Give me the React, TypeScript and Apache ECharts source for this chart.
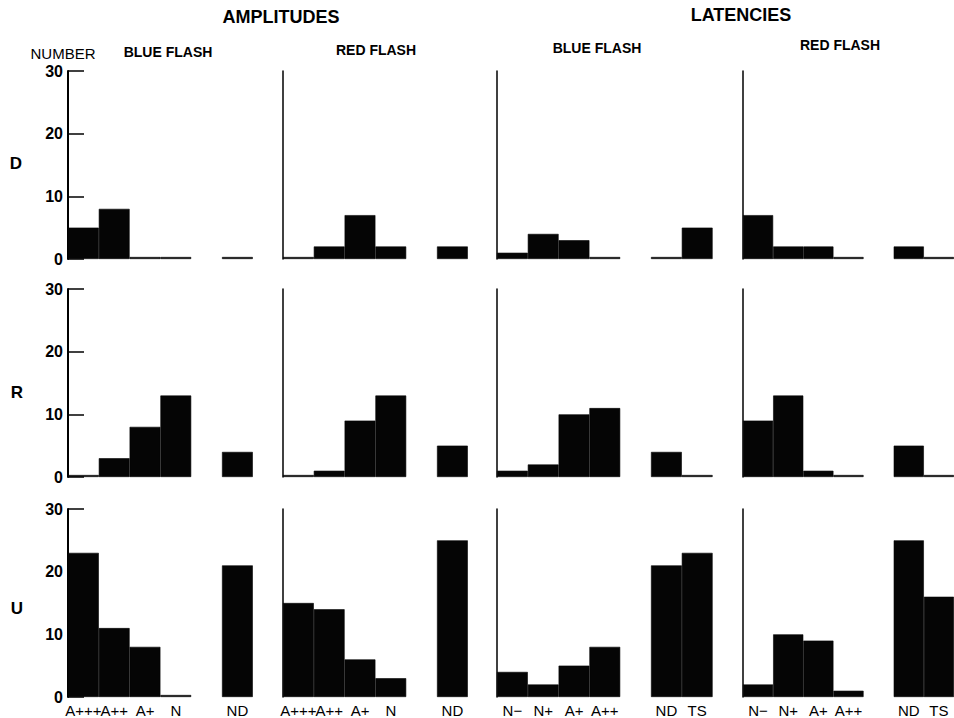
import React, { useEffect, useRef } from 'react';
import * as echarts from 'echarts';

// ---- data ----
const rowLabels = ['D', 'R', 'U'];
const amplitudeCategories = ['A+++', 'A++', 'A+', 'N', '', 'ND'];
const latencyCategories = ['N−', 'N+', 'A+', 'A++', '', 'ND', 'TS'];
const yTickValues = [0, 10, 20, 30];

// null = empty gap slot between histogram and ND/TS columns
const ampBlueD = [5, 8, 0, 0, null, 0];
const ampRedD = [0, 2, 7, 2, null, 2];
const latBlueD = [1, 4, 3, 0, null, 0, 5];
const latRedD = [7, 2, 2, 0, null, 2, 0];

const ampBlueR = [0, 3, 8, 13, null, 4];
const ampRedR = [0, 1, 9, 13, null, 5];
const latBlueR = [1, 2, 10, 11, null, 4, 0];
const latRedR = [9, 13, 1, 0, null, 5, 0];

const ampBlueU = [23, 11, 8, 0, null, 21];
const ampRedU = [15, 14, 6, 3, null, 25];
const latBlueU = [4, 2, 5, 8, null, 21, 23];
const latRedU = [2, 10, 9, 1, null, 25, 16];

const rowData = [
  [ampBlueD, ampRedD, latBlueD, latRedD],
  [ampBlueR, ampRedR, latBlueR, latRedR],
  [ampBlueU, ampRedU, latBlueU, latRedU],
];
const panelCategories = [amplitudeCategories, amplitudeCategories, latencyCategories, latencyCategories];

// ---- layout ----
const FONT = '"Liberation Sans", Arial, Helvetica, sans-serif';
const panelLefts = [68, 283, 497, 743];
const rowTops = [71, 289, 509];
const rowHeight = 188;
const catWidth = 30.8;

export default function App() {
  const ref = useRef<HTMLDivElement>(null);
  useEffect(() => {
    document.body.style.margin = '0';
    const chart = echarts.init(ref.current!, null, { renderer: 'svg' });

    const grid: any[] = [];
    const xAxis: any[] = [];
    const yAxis: any[] = [];
    const series: any[] = [];

    rowData.forEach((panels, r) => {
      panels.forEach((vals, p) => {
        const idx = grid.length;
        const cats = panelCategories[p];
        grid.push({
          left: panelLefts[p],
          top: rowTops[r],
          width: cats.length * catWidth,
          height: rowHeight,
          containLabel: false,
        });
        xAxis.push({
          type: 'category',
          gridIndex: idx,
          data: cats,
          boundaryGap: true,
          axisLine: { show: false },
          axisTick: { show: false },
          axisLabel: {
            show: r === 2,
            interval: 0,
            color: '#000',
            fontFamily: FONT,
            fontSize: 15,
            margin: 6,
          },
          splitLine: { show: false },
        });
        yAxis.push({
          type: 'value',
          gridIndex: idx,
          min: yTickValues[0],
          max: yTickValues[yTickValues.length - 1],
          interval: yTickValues[1] - yTickValues[0],
          axisLine: { show: true, lineStyle: { color: '#000', width: p === 0 ? 2 : 1.5 } },
          axisTick: {
            show: p === 0,
            inside: true,
            length: 16,
            lineStyle: { color: '#000', width: 1.5 },
          },
          axisLabel: {
            show: p === 0,
            color: '#000',
            fontFamily: FONT,
            fontSize: 16,
            fontWeight: 'bold',
            margin: 5,
          },
          splitLine: { show: false },
        });
        series.push({
          type: 'bar',
          xAxisIndex: idx,
          yAxisIndex: idx,
          data: vals.map((v) => (v === null ? '-' : v)),
          barCategoryGap: '0%',
          barMinHeight: 2,
          itemStyle: { color: '#050505', borderColor: '#050505', borderWidth: 0.6 },
          silent: true,
        });
      });
    });

    const txt = (text: string, x: number, y: number, size: number, bold: boolean) => ({
      type: 'text',
      x,
      y,
      style: {
        text,
        fill: '#000',
        font: `${bold ? 'bold ' : ''}${size}px ${FONT}`,
        textAlign: 'center',
        textVerticalAlign: 'middle',
      },
    });

    const graphic = [
      txt('AMPLITUDES', 281, 17, 18, true),
      txt('LATENCIES', 741, 15, 18, true),
      txt('NUMBER', 63, 53, 15, false),
      txt('BLUE FLASH', 168, 52, 14, true),
      txt('RED FLASH', 376, 50, 14, true),
      txt('BLUE FLASH', 597, 48, 14, true),
      txt('RED FLASH', 840, 45, 14, true),
      txt(rowLabels[0], 16, 163, 17, true),
      txt(rowLabels[1], 17, 392, 17, true),
      txt(rowLabels[2], 17, 608, 17, true),
    ];

    chart.setOption({
      animation: false,
      backgroundColor: '#fff',
      grid,
      xAxis,
      yAxis,
      series,
      graphic,
    });
    return () => chart.dispose();
  }, []);
  return <div ref={ref} style={{ width: 954, height: 718 }} />;
}
